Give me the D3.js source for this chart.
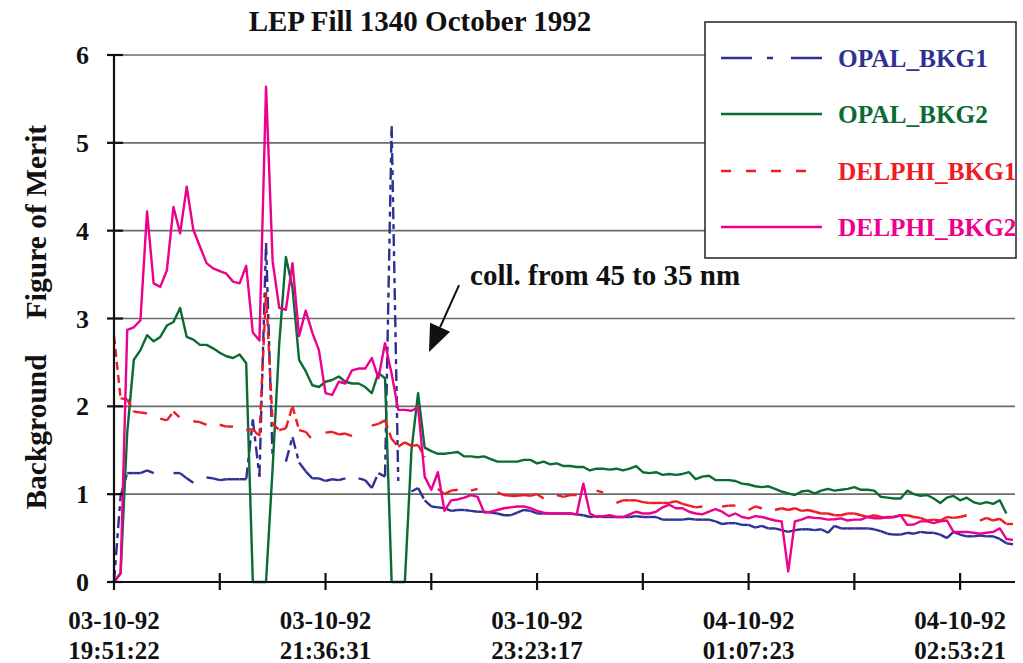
<!DOCTYPE html>
<html><head><meta charset="utf-8">
<script src="https://cdn.jsdelivr.net/npm/d3@7"></script>
<style>
html,body{margin:0;padding:0;background:#fff;}
svg{display:block;}
text{font-family:"Liberation Serif","Times New Roman",serif;font-weight:bold;}
</style></head><body>
<svg id="chart" width="1023" height="663"></svg>
<script>
// ---- data (one sample per category index) ----
const seriesNames = ["OPAL_BKG1", "OPAL_BKG2", "DELPHI_BKG1", "DELPHI_BKG2"];

const opalBkg1 = [0,0.98,1.24,1.24,1.24,1.27,1.24,null,null,1.24,
1.24,1.18,1.13,null,1.19,1.18,1.16,1.17,1.17,1.17,
1.17,1.85,1.20,3.86,1.40,null,1.37,1.65,1.36,1.26,
1.18,1.18,1.15,1.17,1.16,1.18,null,1.18,1.16,1.07,
1.24,1.20,5.19,1.15,null,1.03,1.07,0.93,0.86,0.85,
0.84,0.81,0.82,0.82,0.81,0.80,0.80,0.79,0.78,0.76,
0.76,0.79,0.82,0.81,0.78,0.78,0.78,0.78,0.78,0.78,
0.77,0.76,0.74,0.75,0.74,0.74,0.74,0.74,0.74,0.75,
0.74,0.74,0.74,0.71,0.71,0.71,0.71,0.72,0.71,0.71,
0.71,0.69,0.66,0.67,0.67,0.65,0.65,0.62,0.64,0.61,
0.61,0.59,0.57,0.59,0.60,0.60,0.59,0.60,0.56,0.64,
0.61,0.61,0.61,0.61,0.61,0.60,0.58,0.55,0.54,0.54,
0.56,0.55,0.57,0.56,0.56,0.54,0.50,0.57,0.54,0.52,
0.52,0.53,0.52,0.52,0.49,0.44,0.43];

const opalBkg2 = [0,0.1,1.7,2.53,2.64,2.81,2.74,2.79,2.92,2.96,
3.12,2.79,2.76,2.70,2.70,2.66,2.61,2.57,2.55,2.59,
2.49,0,0,0,1.3,2.72,3.70,3.35,2.53,2.40,
2.24,2.22,2.28,2.30,2.34,2.28,2.26,2.26,2.22,2.15,
2.38,2.32,0,0,0,1.5,2.15,1.53,1.49,1.46,
1.46,1.47,1.48,1.43,1.43,1.42,1.43,1.40,1.37,1.37,
1.37,1.37,1.39,1.39,1.35,1.37,1.34,1.35,1.32,1.32,
1.31,1.31,1.27,1.29,1.29,1.28,1.29,1.27,1.29,1.32,
1.25,1.24,1.25,1.22,1.23,1.22,1.23,1.25,1.17,1.20,
1.21,1.16,1.16,1.16,1.15,1.12,1.11,1.09,1.08,1.09,
1.06,1.03,1.01,0.99,1.03,1.04,1.01,1.04,1.06,1.04,
1.05,1.06,1.08,1.05,1.05,1.04,0.97,0.96,0.95,0.95,
1.04,1.00,0.98,0.99,0.95,0.90,0.96,0.98,0.93,0.96,
0.91,0.89,0.91,0.89,0.93,0.78,null];

const delphiBkg1 = [2.8,2.09,2.08,1.94,1.93,1.92,null,1.86,1.84,1.94,
1.87,null,1.83,1.82,1.79,null,1.79,1.77,1.77,null,
1.73,1.74,1.66,3.3,1.80,1.73,1.75,2.0,1.73,1.71,
1.62,null,1.70,1.71,1.68,1.69,1.66,null,null,1.78,
1.80,1.84,1.63,1.54,1.59,1.55,1.56,1.42,null,1.06,
1.00,1.04,1.05,null,1.04,1.06,null,null,1.02,0.99,
0.98,0.98,0.99,0.98,1.00,0.95,null,0.99,0.97,0.99,
0.99,null,null,1.04,1.02,null,0.90,0.93,0.93,0.93,
0.91,0.90,0.90,0.90,0.90,0.92,0.89,0.87,0.85,0.86,
null,null,0.86,0.87,0.87,null,0.82,0.86,0.84,null,
0.82,0.84,0.82,0.84,0.81,0.82,0.80,0.78,0.78,0.76,
0.76,0.78,0.78,0.76,0.74,0.76,0.74,0.73,0.74,0.76,
0.76,0.74,0.73,0.70,0.71,0.70,0.74,0.73,0.74,0.76,
null,0.70,0.73,0.70,0.72,0.66,0.66];

const delphiBkg2 = [0,0.1,2.87,2.90,2.98,4.22,3.40,3.36,3.55,4.27,
3.97,4.50,4.01,3.82,3.63,3.57,3.54,3.51,3.42,3.40,
3.60,2.84,2.75,5.64,3.65,3.12,3.10,3.63,2.80,3.09,
2.84,2.64,2.15,2.13,2.28,2.26,2.41,2.43,2.43,2.55,
2.32,2.72,2.37,1.96,1.96,1.95,1.99,1.20,1.05,1.25,
0.81,0.93,0.94,0.96,0.99,0.97,0.79,0.80,0.82,0.84,
0.85,0.86,0.86,0.84,0.81,0.79,0.78,0.78,0.78,0.78,
0.77,1.12,0.78,0.74,0.75,0.76,0.74,0.74,0.77,0.80,
0.78,0.78,0.80,0.85,0.88,0.84,0.84,0.80,0.78,0.77,
0.80,0.83,0.80,0.75,0.78,0.74,0.725,0.75,0.74,0.72,
0.70,0.69,0.12,0.69,0.71,0.74,0.73,0.725,0.71,0.715,
0.725,0.70,0.71,0.71,0.74,0.725,0.725,0.74,0.74,0.76,
0.65,0.655,0.69,0.69,0.67,0.69,0.70,0.57,0.57,0.57,
0.56,0.55,0.56,0.57,0.61,0.49,0.48];

const yTicks = [0, 1, 2, 3, 4, 5, 6];
const xTickStep = 16;
const xLabelIndex = [0, 32, 64, 96, 128];
const xLabelDates = ["03-10-92", "03-10-92", "03-10-92", "04-10-92", "04-10-92"];
const xLabelTimes = ["19:51:22", "21:36:31", "23:23:17", "01:07:23", "02:53:21"];
const titleText = "LEP Fill 1340 October 1992";
const yTitleParts = ["Figure of Merit", "Background"];
const annotationText = "coll. from 45 to 35 nm";
const annotationFrom = [52.2, 3.38];
const annotationTo = [47.65, 2.62];

// ---- styles ----
const seriesData = [opalBkg1, opalBkg2, delphiBkg1, delphiBkg2];
const colors = ["#2E3192", "#0B6B35", "#ED1C24", "#EC008C"];
const chartDash = ["12 5 5 5", null, "8 5", null];
const legendDash = ["31 15 6 18", null, "10 15", null];
const legendLen = [101, 101, 85, 101];

const svg = d3.select("#chart");
const N = opalBkg1.length - 1;
const x = d3.scaleLinear().domain([0, N]).range([114, 1013]);
const y = d3.scaleLinear().domain([0, 6]).range([582, 55]);
const xEnd = 1015;

// title
svg.append("text").attr("x", 420).attr("y", 31).attr("text-anchor", "middle")
  .attr("font-size", 29).attr("fill", "#111").text(titleText);

// gridlines
svg.append("g").selectAll("line").data(yTicks.filter(d => d > 0)).join("line")
  .attr("x1", x(0)).attr("x2", xEnd).attr("y1", d => y(d)).attr("y2", d => y(d))
  .attr("stroke", "#6b6b6b").attr("stroke-width", 1.6);

// series
const line = d3.line().x(d => x(d[0])).y(d => y(d[1]));
seriesData.forEach((vals, k) => {
  const g = svg.append("g").attr("fill", "none").attr("stroke", colors[k])
    .attr("stroke-width", 2.4).attr("stroke-linejoin", "round");
  if (chartDash[k]) {
    const segs = [];
    for (let i = 0; i < vals.length - 1; i++) {
      if (vals[i] != null && vals[i + 1] != null) segs.push([[i, vals[i]], [i + 1, vals[i + 1]]]);
    }
    g.selectAll("path").data(segs).join("path").attr("d", line)
      .attr("stroke-dasharray", chartDash[k]);
  } else {
    g.append("path").datum(vals.map((v, i) => [i, v]))
      .attr("d", d3.line().defined(d => d[1] != null).x(d => x(d[0])).y(d => y(d[1])));
  }
});

// axes
const axG = svg.append("g").attr("stroke", "#111").attr("stroke-width", 2.2);
axG.append("line").attr("x1", x(0)).attr("x2", x(0)).attr("y1", y(6)).attr("y2", y(0));
axG.append("line").attr("x1", x(0)).attr("x2", xEnd).attr("y1", y(0)).attr("y2", y(0));
axG.selectAll(".yt").data(yTicks).join("line").attr("class", "yt")
  .attr("x1", x(0) - 7).attr("x2", x(0) + 9).attr("y1", d => y(d)).attr("y2", d => y(d));
const xTickIdx = d3.range(0, N + 1, xTickStep);
axG.selectAll(".xt").data(xTickIdx).join("line").attr("class", "xt")
  .attr("x1", d => x(d)).attr("x2", d => x(d)).attr("y1", y(0) - 9).attr("y2", y(0) + 8);

// y tick labels
svg.append("g").selectAll("text").data(yTicks).join("text")
  .attr("x", 89).attr("y", d => y(d) + 9).attr("text-anchor", "end")
  .attr("font-size", 26).attr("fill", "#111").text(d => d);

// x tick labels
const xl = svg.append("g").attr("font-size", 25).attr("fill", "#111").attr("text-anchor", "middle");
xl.selectAll(".d").data(xLabelIndex).join("text").attr("class", "d")
  .attr("x", d => x(d)).attr("y", 629).text((d, i) => xLabelDates[i]);
xl.selectAll(".t").data(xLabelIndex).join("text").attr("class", "t")
  .attr("x", d => x(d)).attr("y", 659).text((d, i) => xLabelTimes[i]);

// y title
svg.append("text").attr("transform", "translate(46,222) rotate(-90)").attr("text-anchor", "middle")
  .attr("font-size", 29.5).attr("fill", "#111").text(yTitleParts[0]);
svg.append("text").attr("transform", "translate(46,432) rotate(-90)").attr("text-anchor", "middle")
  .attr("font-size", 29.5).attr("fill", "#111").text(yTitleParts[1]);

// annotation
const p0 = [x(annotationFrom[0]), y(annotationFrom[1])];
const p1 = [x(annotationTo[0]), y(annotationTo[1])];
const dx = p1[0] - p0[0], dy = p1[1] - p0[1], L = Math.hypot(dx, dy);
const ux = dx / L, uy = dy / L;
const headLen = 27, headW = 11;
const bx = p1[0] - ux * headLen, by = p1[1] - uy * headLen;
svg.append("line").attr("x1", p0[0]).attr("y1", p0[1]).attr("x2", bx).attr("y2", by)
  .attr("stroke", "#111").attr("stroke-width", 2);
svg.append("path").attr("d", `M${p1[0]},${p1[1]}L${bx - uy * headW},${by + ux * headW}L${bx + uy * headW},${by - ux * headW}Z`)
  .attr("fill", "#111");
svg.append("text").attr("x", p0[0] + 11).attr("y", p0[1]).attr("font-size", 29).attr("fill", "#111")
  .text(annotationText);

// legend
const lg = svg.append("g");
lg.append("rect").attr("x", 705).attr("y", 22).attr("width", 311).attr("height", 236)
  .attr("fill", "#fff").attr("stroke", "#222").attr("stroke-width", 1.5);
const legendY = [58, 114, 171, 227];
seriesNames.forEach((name, k) => {
  lg.append("line").attr("x1", 721).attr("x2", 721 + legendLen[k])
    .attr("y1", legendY[k]).attr("y2", legendY[k])
    .attr("stroke", colors[k]).attr("stroke-width", 2.4)
    .attr("stroke-dasharray", legendDash[k]);
  lg.append("text").attr("x", 838).attr("y", legendY[k] + 8.5).attr("font-size", 25.3)
    .attr("fill", colors[k]).text(name);
});
</script>
</body></html>
